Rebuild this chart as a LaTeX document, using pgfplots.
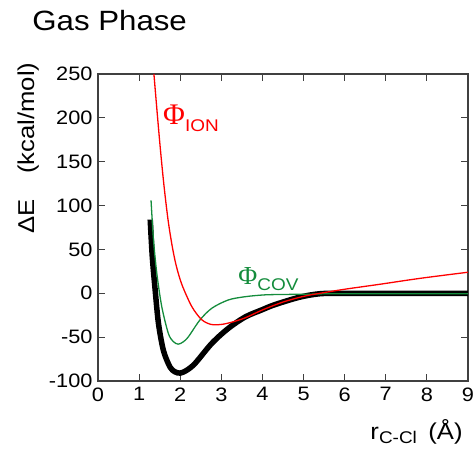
\documentclass[border=0pt]{standalone}
\usepackage{pgfplots}
\pgfplotsset{compat=1.18}
\usepackage{fontspec}
\setmainfont{Liberation Sans}[FakeStretch=1.12]
\newfontfamily\phifont{Liberation Serif}
\definecolor{cgreen}{RGB}{20,140,60}
\definecolor{cred}{RGB}{255,0,0}
\begin{document}
\begin{tikzpicture}
\useasboundingbox (-98bp,-68bp) rectangle (375bp,381bp);
\begin{axis}[
  at={(0,0)}, anchor=south west,
  scale only axis, width=370bp, height=307bp,
  xmin=0, xmax=9, ymin=-100, ymax=250,
  xtick={0,1,...,9}, ytick={-100,-50,...,250},
  tick align=inside, major tick length=7bp,
  axis line style={line width=1.2bp, black!75},
  every tick/.style={line width=1bp, black!75},
  /pgf/number format/assume math mode=true,
  ticklabel style={font=\fontsize{19.5}{20}\selectfont},
  yticklabel style={xshift=-2bp},
  xticklabel style={yshift=-3bp},
  title={\fontsize{28}{30}\selectfont Gas Phase},
  title style={at={(rel axis cs:-0.178,1.1215)}, anchor=base west, inner sep=0pt},
  ylabel={\fontsize{23}{24}\selectfont ΔE\hspace{1.1em}(kcal/mol)},
  ylabel style={at={(rel axis cs:-0.189,0.759)}, anchor=center, rotate=0},
  xlabel={\fontsize{23}{24}\selectfont r\raisebox{-4.5bp}{\fontsize{17}{17}\selectfont C-Cl}\hspace{0.5em}(Å)},
  xlabel style={at={(rel axis cs:0.986,-0.19)}, anchor=base east, inner sep=0pt},
  clip=true,
]
% total energy (black, thick)
\addplot[black, line width=5.5bp, smooth, tension=0.5] coordinates {
(1.27,84) (1.32,42) (1.39,4) (1.47,-34) (1.59,-65) (1.75,-84) (1.87,-89.5)
(2.0,-91) (2.15,-88) (2.36,-80) (2.77,-57) (3.17,-40) (3.58,-27) (3.98,-19)
(4.3,-13) (4.9,-4.5) (5.4,-0.5) (6,0) (7,0) (8,0) (9,0)
};
% covalent (green)
\addplot[cgreen, line width=1.3bp, smooth, tension=0.5] coordinates {
(1.29,106) (1.35,61) (1.43,23) (1.55,-15) (1.71,-45.6) (1.83,-55) (1.95,-58)
(2.07,-55.5) (2.2,-49.5) (2.48,-30.4) (2.77,-17) (3.17,-7.6) (3.58,-3.9)
(4.06,-1.8) (4.6,-1.3) (5.2,-1) (5.6,-0.5) (6.5,-0.5) (7.5,-0.5) (9,-0.5)
};
% ionic (red)
\addplot[cred, line width=1.3bp, smooth, tension=0.5] coordinates {
(1.36,250) (1.45,200) (1.52,163) (1.60,125) (1.70,85) (1.80,55) (1.90,32)
(2.04,10) (2.28,-15) (2.52,-30) (2.75,-35.5) (3.0,-35.5) (3.25,-33) (3.58,-28)
(4.0,-19) (4.5,-10) (5.0,-3.5) (5.4,0) (6.0,4.6) (6.86,10.3) (7.83,17) (9,24)
};
\node[anchor=base west, inner sep=0pt, text=cred] at (axis cs:1.58,192)
  {{\phifont\fontsize{30}{30}\selectfont Φ}\raisebox{-7bp}{\fontsize{17}{17}\selectfont ION}};
\node[anchor=base west, inner sep=0pt, text=cgreen] at (axis cs:3.41,9.5)
  {{\phifont\fontsize{26}{26}\selectfont Φ}\raisebox{-6bp}{\fontsize{17}{17}\selectfont COV}};
\end{axis}
\end{tikzpicture}
\end{document}
